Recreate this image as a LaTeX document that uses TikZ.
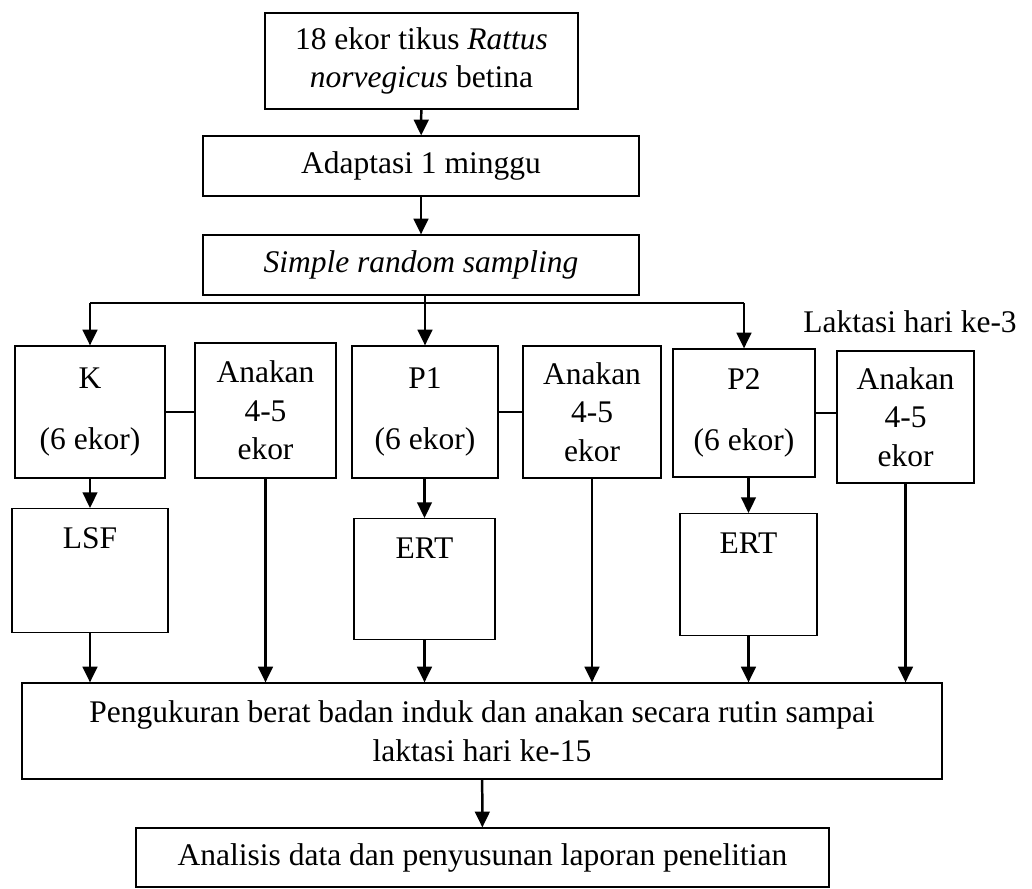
\documentclass[tikz,border=0pt]{standalone}
\usepackage{fontspec}
\setmainfont{Liberation Serif}
\usetikzlibrary{arrows.meta,positioning}
\newlength{\px}
\setlength{\px}{0.381pt}

\begin{document}
\begin{tikzpicture}[
  x=0.381pt,y=-0.381pt,
  box/.style={draw,line width=0.45pt,align=center,inner sep=0pt,font=\fontsize{12}{14.7}\selectfont},
  arr/.style={-{Triangle[length=6pt,width=5.6pt]},line width=0.95pt},
  link/.style={line width=0.45pt}
]
\useasboundingbox (0,0) rectangle (1032,889);
\node[box,minimum width=313\px,minimum height=96\px] (tikus) at (421.5,61) {18 ekor tikus \textit{Rattus}\\\textit{norvegicus} betina};
\node[box,minimum width=436\px,minimum height=60\px] (adapt) at (421,166) {Adaptasi 1 minggu};
\node[box,minimum width=436\px,minimum height=60\px] (simple) at (421,265) {\textit{Simple random sampling}};
\node[box,minimum width=150\px,minimum height=132\px] (K) at (90,412) {K\\[22\px](6 ekor)};
\node[box,minimum width=141\px,minimum height=135\px] (an1) at (265.5,410.5) {Anakan\\4-5\\ekor};
\node[box,minimum width=146\px,minimum height=132\px] (P1) at (425,412) {P1\\[22\px](6 ekor)};
\node[box,minimum width=138\px,minimum height=132\px] (an2) at (592,412) {Anakan\\4-5\\ekor};
\node[box,minimum width=142\px,minimum height=128\px] (P2) at (744,413) {P2\\[22\px](6 ekor)};
\node[box,minimum width=137\px,minimum height=132\px] (an3) at (905.5,417) {Anakan\\4-5\\ekor};
\node[font=\fontsize{12}{14.7}\selectfont,inner sep=0pt] (laktasi) at (910,322) {Laktasi hari ke-3};
\node[box,minimum width=156\px,text height=40\px,text depth=84\px,anchor=north] (lsf) at (90,508) {LSF};
\node[box,minimum width=141\px,text height=40\px,text depth=81\px,anchor=north] (ert1) at (424.5,518) {ERT};
\node[box,minimum width=137\px,text height=40\px,text depth=82\px,anchor=north] (ert2) at (748.5,513) {ERT};
\node[box,minimum width=920\px,minimum height=96\px] (peng) at (482,731) {Pengukuran berat badan induk dan anakan secara rutin sampai\\laktasi hari ke-15};
\node[box,minimum width=693\px,minimum height=59\px] (anal) at (482.5,857.5) {Analisis data dan penyusunan laporan penelitian};
% alur atas
\draw[arr] (tikus) -- (adapt);
\draw[arr] (adapt) -- (simple);
\coordinate (split) at (P1.north |- 0,303);
\draw[arr] (simple.south -| split) -- (P1.north);
\draw[link] (K.north |- split) -- (P2.north |- split);
\draw[arr] (K.north |- split) -- (K.north);
\draw[arr] (P2.north |- split) -- (P2.north);
% induk - anakan
\draw[link] (K.east) -- (K.east -| an1.west);
\draw[link] (P1.east) -- (P1.east -| an2.west);
\draw[link] (P2.east) -- (P2.east -| an3.west);
\draw[arr] (K) -- (lsf);
\draw[arr] (P1.south -| ert1.north) -- (ert1.north);
\draw[arr] (P2.south -| ert2.north) -- (ert2.north);
% ke pengukuran
\draw[arr] (lsf) -- (lsf |- peng.north);
\draw[arr] (an1) -- (an1 |- peng.north);
\draw[arr] (ert1) -- (ert1 |- peng.north);
\draw[arr] (an2) -- (an2 |- peng.north);
\draw[arr] (ert2) -- (ert2 |- peng.north);
\draw[arr] (an3) -- (an3 |- peng.north);
\draw[arr] (peng) -- (anal);
\end{tikzpicture}
\end{document}
